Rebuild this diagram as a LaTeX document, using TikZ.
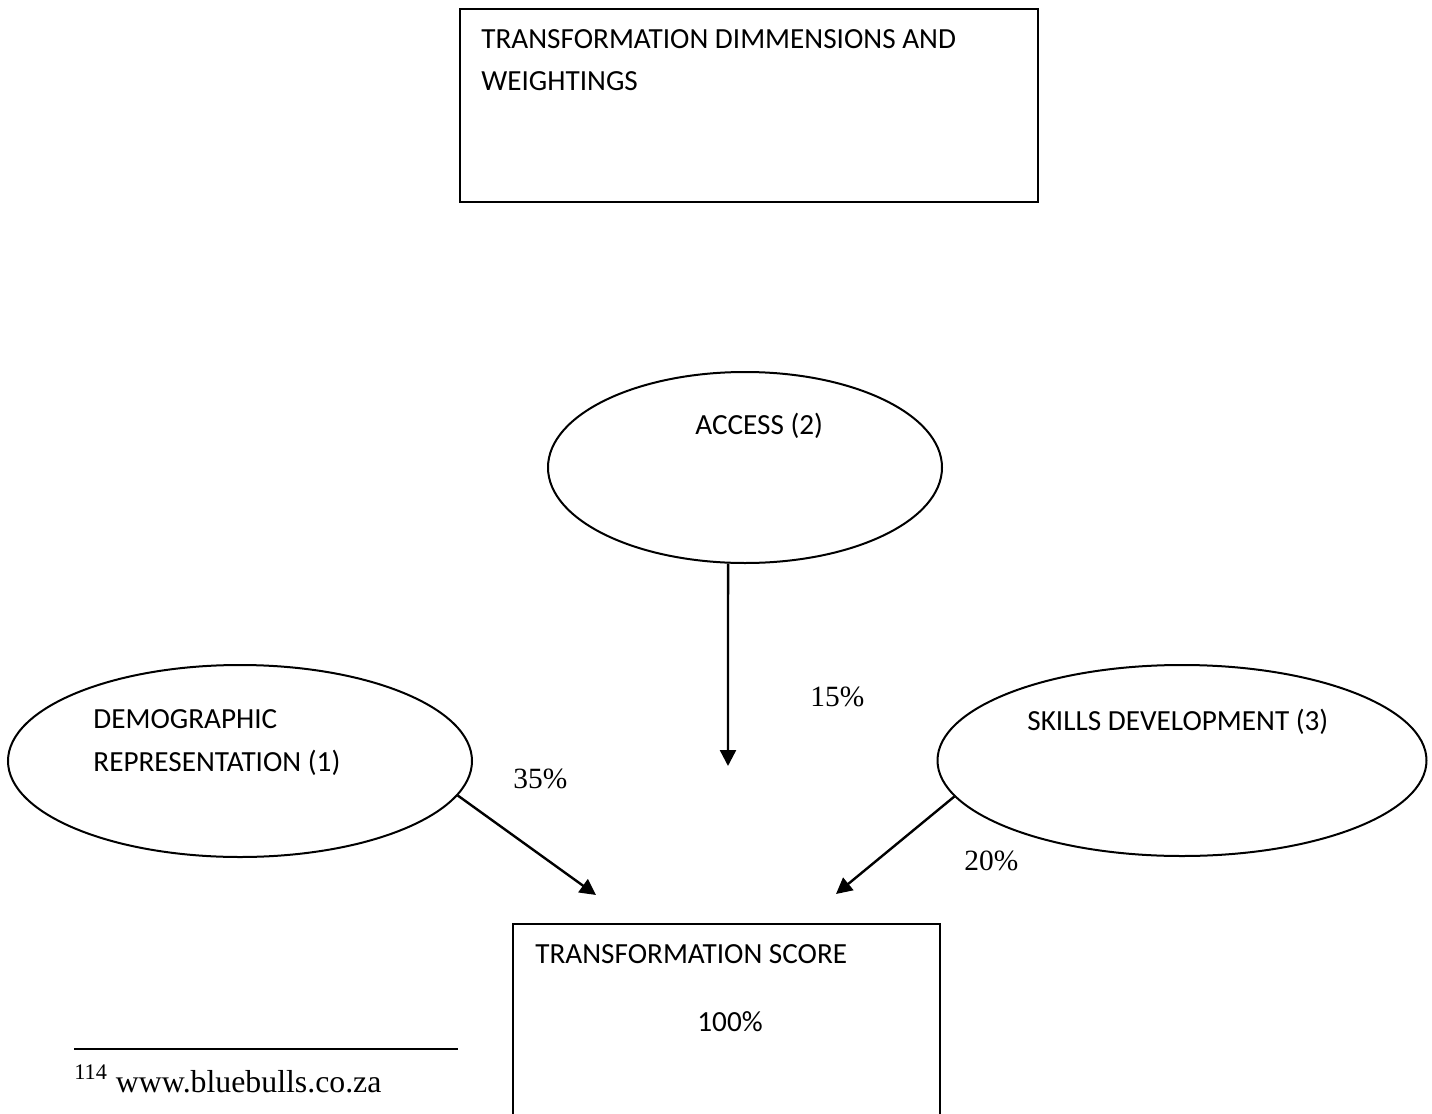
\documentclass[tikz,border=0pt]{standalone}
\usepackage{fontspec}
\setmainfont{Carlito}
\newfontfamily\timesfont{Liberation Serif}
\usetikzlibrary{shapes.geometric,arrows.meta}
\tikzset{
  lbl/.style={inner sep=0pt,anchor=base west,font=\fontsize{14.6pt}{17pt}\selectfont},
  pct/.style={inner sep=0pt,anchor=base west,font=\timesfont\fontsize{14.7pt}{17pt}\selectfont},
  oval/.style={draw,ellipse,inner sep=0pt,line width=1pt},
  frame/.style={draw,rectangle,inner sep=0pt,line width=1pt},
  weight/.style={-{Triangle[length=8pt,width=8pt]},line width=1.2pt}
}
\begin{document}
\begin{tikzpicture}[x=0.5pt,y=-0.5pt]
  \clip (0,0) rectangle (1432,1114);
  % heading
  \node[frame,minimum width=289pt,minimum height=96.5pt] (head) at (749,105.5) {};
  \node[lbl] (head1) at (481,48) {TRANSFORMATION DIMMENSIONS AND};
  \node[lbl] (head2) at (481,90) {WEIGHTINGS};
  % dimensions
  \node[oval,minimum width=197pt,minimum height=95.5pt] (access) at (745,467.5) {};
  \node[oval,minimum width=232pt,minimum height=96pt] (demog) at (240,761) {};
  \node[oval,minimum width=244.5pt,minimum height=95.5pt] (skills) at (1182,760.5) {};
  \node[lbl] (accesstxt) at (695,434) {ACCESS (2)};
  \node[lbl] (demogtxt1) at (93,728) {DEMOGRAPHIC};
  \node[lbl] (demogtxt2) at (93,771) {REPRESENTATION (1)};
  \node[lbl] (skillstxt) at (1027,730) {SKILLS DEVELOPMENT (3)};
  % score
  \node[frame,minimum width=213.5pt,minimum height=108pt] (score) at (726.5,1032) {};
  \node[lbl] (scoretxt) at (535,963) {TRANSFORMATION SCORE};
  \node[lbl] (scoreval) at (697,1031) {100\%};
  % weights
  \coordinate (accesstip) at (728,766);
  \coordinate (demogtip) at (596,895);
  \coordinate (skillstip) at (836,894);
  \begin{scope}[weight]
    \draw (access.-100) -- (accesstip);
    \draw (demog.-9) -- (demogtip);
    \draw (skills.-171) -- (skillstip);
  \end{scope}
  \node[pct] (accesspct) at (810,706) {15\%};
  \node[pct] (demogpct) at (513,788) {35\%};
  \node[pct] (skillspct) at (964,870) {20\%};
  % footnote
  \draw[line width=1pt] (74,1049) -- (458,1049);
  \node[pct,font=\timesfont\fontsize{15.9pt}{18pt}\selectfont] (fnote) at (74,1092) {\textsuperscript{114} www.bluebulls.co.za};
\end{tikzpicture}
\end{document}
